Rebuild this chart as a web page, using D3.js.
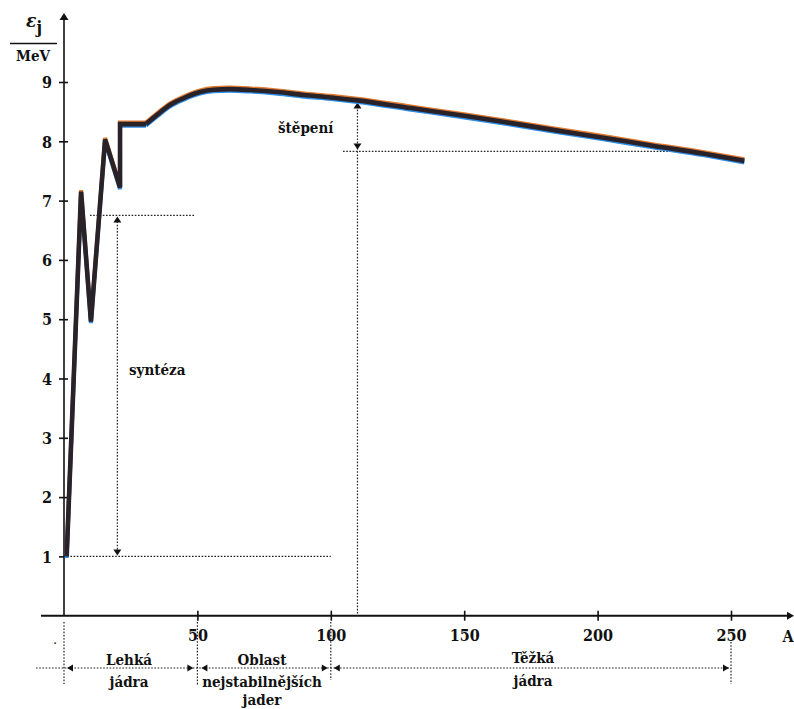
<!DOCTYPE html>
<html>
<head>
<meta charset="utf-8">
<script src="https://cdn.jsdelivr.net/npm/d3@7"></script>
<style>
  html, body { margin: 0; padding: 0; background: #fff; }
  svg { display: block; }
</style>
</head>
<body>
<svg id="chart" width="794" height="709"></svg>
<script>
// ---- data ----
const massNumbers = [1, 6.4, 10.1, 15.4, 21, 21, 30.7, 35, 40, 45, 51, 56, 62, 70, 80, 90, 100, 110, 130, 150, 170, 185, 201, 220, 240, 255];
const bindingEnergy = [1.0, 7.15, 4.96, 8.03, 7.22, 8.29, 8.29, 8.45, 8.62, 8.73, 8.83, 8.87, 8.88, 8.865, 8.83, 8.78, 8.74, 8.69, 8.56, 8.43, 8.29, 8.18, 8.07, 7.93, 7.79, 7.67];
const zigzagCount = 7;
const xTicks = [50, 100, 150, 200, 250];
const yTicks = [1, 2, 3, 4, 5, 6, 7, 8, 9];
const regionBounds = [0, 50, 100, 250];
const regionLabels = [["Lehká", "jádra"], ["Oblast", "nejstabilnějších", "jader"], ["Těžká", "jádra"]];
const fusionA = 20, fusionTop = 6.75, fusionBottom = 1.0, fusionLineEnd = 49, fusionBaseEnd = 100;
const fissionA = 110, fissionTop = 8.69, fissionBottom = 7.83, fissionLineStart = 104.6, fissionLineEnd = 230;

const FONT = "'DejaVu Serif Condensed', 'DejaVu Serif', serif";

const svg = d3.select("#chart");
const x = d3.scaleLinear().domain([0, 250]).range([64, 731]);
const y = d3.scaleLinear().domain([0, 9]).range([615.7, 82]);
const x0 = x(0), yAxisY = y(0);

function label(xp, yp, txt, size, anchor) {
  return svg.append("text").attr("x", xp).attr("y", yp)
    .style("font-family", FONT).style("font-weight", "bold").style("font-size", size + "px")
    .attr("text-anchor", anchor || "start").attr("fill", "#111").text(txt);
}
function triangle(cx, cy, dir, w, h) {
  let p;
  if (dir === "up") p = [[cx, cy], [cx - w / 2, cy + h], [cx + w / 2, cy + h]];
  if (dir === "down") p = [[cx, cy], [cx - w / 2, cy - h], [cx + w / 2, cy - h]];
  if (dir === "left") p = [[cx, cy], [cx + h, cy - w / 2], [cx + h, cy + w / 2]];
  if (dir === "right") p = [[cx, cy], [cx - h, cy - w / 2], [cx - h, cy + w / 2]];
  svg.append("path").attr("d", "M" + p.map(q => q.join(",")).join("L") + "Z").attr("fill", "#111");
}
function dotted(x1, y1, x2, y2) {
  svg.append("line").attr("x1", x1).attr("y1", y1).attr("x2", x2).attr("y2", y2)
    .attr("stroke", "#222").attr("stroke-width", 1.2).attr("stroke-dasharray", "1.6,1.6");
}

// axes
svg.append("line").attr("x1", 41).attr("x2", 790).attr("y1", yAxisY).attr("y2", yAxisY)
  .attr("stroke", "#111").attr("stroke-width", 2);
triangle(794, yAxisY, "right", 8, 7);
svg.append("line").attr("x1", x0).attr("x2", x0).attr("y1", yAxisY).attr("y2", 20)
  .attr("stroke", "#111").attr("stroke-width", 1.6);
triangle(x0, 13, "up", 9, 7);

const xAxis = svg.append("g").attr("transform", `translate(0,${yAxisY})`)
  .call(d3.axisBottom(x).tickValues(xTicks).tickSize(5).tickSizeOuter(0));
xAxis.select(".domain").remove();
xAxis.selectAll(".tick line").attr("y1", -5).attr("y2", 5).attr("stroke", "#111").attr("stroke-width", 1.6);
xAxis.selectAll(".tick text").attr("y", 14).attr("dy", "0.71em").attr("fill", "#111")
  .style("font-family", FONT).style("font-size", "16px").style("font-weight", "bold");

const yAxis = svg.append("g").attr("transform", `translate(${x0},0)`)
  .call(d3.axisLeft(y).tickValues(yTicks).tickSize(5).tickSizeOuter(0));
yAxis.select(".domain").remove();
yAxis.selectAll(".tick line").attr("x1", 4).attr("x2", -5).attr("stroke", "#111").attr("stroke-width", 1.6);
yAxis.selectAll(".tick text").attr("x", -12).attr("dy", "0.36em").attr("fill", "#111")
  .style("font-family", FONT).style("font-size", "16px").style("font-weight", "bold");

label(788, 642, "A", 16, "middle");
label(55, 644, ".", 10, "middle");

// y label
const yl = label(26, 27, "", 19);
yl.append("tspan").style("font-style", "italic").text("ε");
yl.append("tspan").attr("dy", 6).style("font-size", "17px").text("j");
svg.append("line").attr("x1", 10).attr("x2", 57).attr("y1", 43.5).attr("y2", 43.5).attr("stroke", "#111").attr("stroke-width", 1.5);
label(33, 61, "MeV", 15, "middle");

// fusion
dotted(x(9.75), y(fusionTop), x(fusionLineEnd), y(fusionTop));
dotted(x0, y(fusionBottom), x(fusionBaseEnd), y(fusionBottom));
dotted(x(fusionA), y(fusionTop) + 6, x(fusionA), y(fusionBottom) - 6);
triangle(x(fusionA), y(fusionTop) + 1, "up", 8, 6);
triangle(x(fusionA), y(fusionBottom) - 1, "down", 8, 6);
label(129, 375, "syntéza", 15);

// fission
dotted(x(fissionA), y(fissionTop) + 6, x(fissionA), yAxisY);
dotted(x(fissionLineStart), y(fissionBottom), x(fissionLineEnd), y(fissionBottom));
triangle(x(fissionA), y(fissionTop) + 2, "up", 8, 6);
triangle(x(fissionA), y(fissionBottom) - 2, "down", 8, 6);
label(278, 133, "štěpení", 15);

// regions
const by = 668;
dotted(36, by, x(regionBounds[3]) - 2, by);
dotted(x(regionBounds[0]), 622, x(regionBounds[0]), 684);
dotted(x(regionBounds[1]), 622, x(regionBounds[1]), 685);
dotted(x(regionBounds[2]), 622, x(regionBounds[2]), 680);
dotted(x(regionBounds[3]), 642, x(regionBounds[3]), 684);
triangle(x(0) + 3, by, "left", 7, 6);
triangle(x(50) - 4, by, "right", 7, 6);
triangle(x(50) + 4, by, "left", 7, 6);
triangle(x(100) - 3, by, "right", 7, 6);
triangle(x(100) + 3, by, "left", 7, 6);
triangle(x(250) - 2, by, "right", 7, 6);
const regionCenters = [129, 262, 533];
const regionBaselines = [[665, 687], [665, 687, 705], [663, 686]];
regionLabels.forEach((lines, i) => {
  lines.forEach((t, j) => {
    label(regionCenters[i], regionBaselines[i][j], t, 15, "middle");
  });
});

// curve
const pts = massNumbers.map((a, i) => [a, bindingEnergy[i]]);
const zig = pts.slice(0, zigzagCount);
const smooth = pts.slice(zigzagCount - 1);
const lineLin = d3.line().x(d => x(d[0])).y(d => y(d[1])).curve(d3.curveLinear);
const lineSm = d3.line().x(d => x(d[0])).y(d => y(d[1])).curve(d3.curveMonotoneX);
const layers = [
  { dy: -1.6, color: "#e07a30", w: 4 },
  { dy: 1.6, color: "#2f8fe8", w: 4 },
  { dy: 0, color: "#2a2229", w: 4.6 }
];
layers.forEach(L => {
  const g = svg.append("g").attr("transform", `translate(0,${L.dy})`);
  [lineLin(zig), lineSm(smooth)].forEach(d => {
    g.append("path").attr("d", d).attr("fill", "none").attr("stroke", L.color)
      .attr("stroke-width", L.w).attr("stroke-linejoin", "miter").attr("stroke-linecap", "butt");
  });
});
</script>
</body>
</html>
